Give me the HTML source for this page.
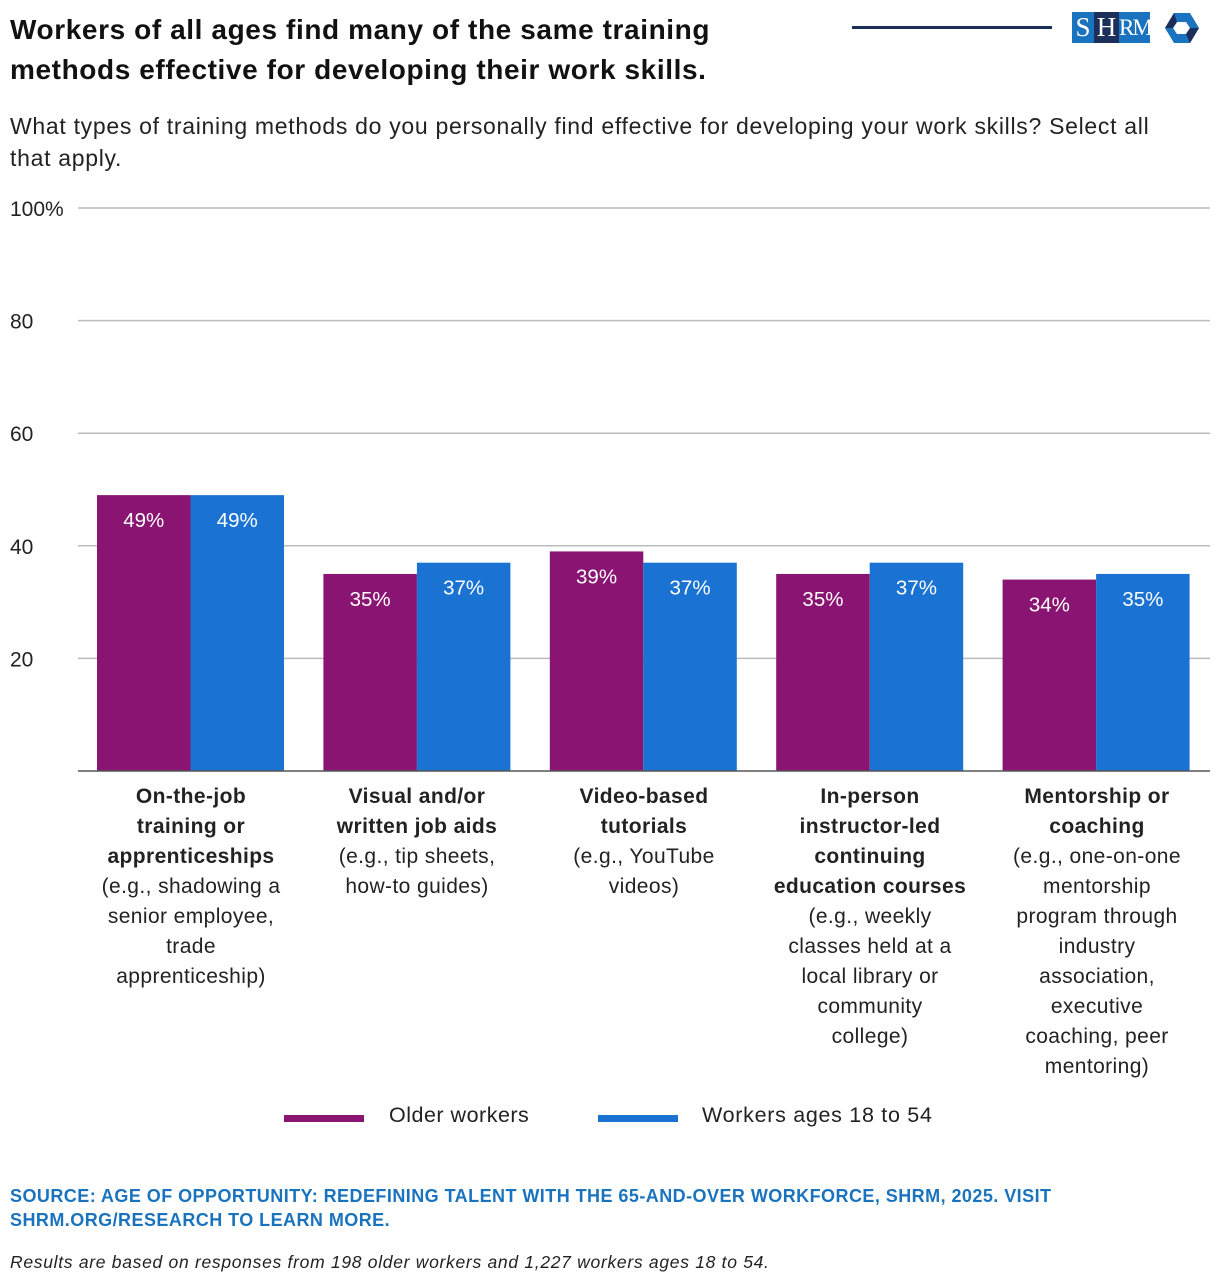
<!DOCTYPE html>
<html><head><meta charset="utf-8">
<style>
body{margin:0;width:1220px;height:1288px;background:#fff;font-family:"Liberation Sans",sans-serif;color:#111;position:relative;overflow:hidden}
.abs{position:absolute}
.title{left:10px;top:10px;font-size:28px;letter-spacing:0.6px;font-weight:bold;line-height:40px;color:#111}
.sub{left:10px;top:110px;font-size:23px;letter-spacing:0.7px;line-height:32px;color:#222;width:1205px}
.cat{position:absolute;width:230px;text-align:center;font-size:21px;letter-spacing:0.4px;line-height:30px;color:#222;white-space:nowrap}
.cat b{color:#222}
.src{left:10px;top:1184px;font-size:18px;letter-spacing:0.45px;font-weight:bold;color:#1a73be;line-height:24px}
.note{left:10px;top:1252px;font-size:17.5px;letter-spacing:0.7px;font-style:italic;color:#222}
</style></head><body>
<div class="abs title">Workers of all ages find many of the same training<br>methods effective for developing their work skills.</div>
<div class="abs" style="left:852px;top:26px;width:200px;height:3px;background:#1c2e5a"></div>
<div class="abs" style="left:1072px;top:12px;height:31px;width:130px">
 <div class="abs" style="left:0;top:0;width:22px;height:31px;background:#1a73be;color:#fff;font-family:'Liberation Serif',serif;font-size:27px;text-align:center;line-height:31px">S</div>
 <div class="abs" style="left:22px;top:0;width:25px;height:31px;background:#1c2e5a;color:#fff;font-family:'Liberation Serif',serif;font-size:27px;text-align:center;line-height:31px">H</div>
 <div class="abs" style="left:47px;top:0;width:31px;height:31px;background:#1a73be;color:#fff;font-family:'Liberation Serif',serif;font-size:23px;text-align:center;line-height:31px;letter-spacing:-2px;overflow:hidden">RM</div>
 <svg class="abs" style="left:90px;top:0" width="40" height="32" viewBox="0 0 40 32"><polygon points="12,1 28,1 37,16 28,31 12,31 3,16" fill="#1a73be"/><polygon points="15,10 24,10 28,16 24,22 15,22 11,16" fill="#fff"/><polygon points="3,16 12,1 15,10 11,16" fill="#1c2e5a"/><polygon points="28,31 24,22 28,16 37,16" fill="#1c2e5a"/></svg>
</div>
<div class="abs sub">What types of training methods do you personally find effective for developing your work skills? Select all<br>that apply.</div>

<svg class="abs" style="left:0;top:0" width="1220" height="1100" id="chart"></svg>

<div class="cat" style="left:76px;top:782px"><b>On-the-job<br>training or<br>apprenticeships</b><br>(e.g., shadowing a<br>senior employee,<br>trade<br>apprenticeship)</div>
<div class="cat" style="left:302px;top:782px"><b>Visual and/or<br>written job aids</b><br>(e.g., tip sheets,<br>how-to guides)</div>
<div class="cat" style="left:529px;top:782px"><b>Video-based<br>tutorials</b><br>(e.g., YouTube<br>videos)</div>
<div class="cat" style="left:755px;top:782px"><b>In-person<br>instructor-led<br>continuing<br>education courses</b><br>(e.g., weekly<br>classes held at a<br>local library or<br>community<br>college)</div>
<div class="cat" style="left:982px;top:782px"><b>Mentorship or<br>coaching</b><br>(e.g., one-on-one<br>mentorship<br>program through<br>industry<br>association,<br>executive<br>coaching, peer<br>mentoring)</div>

<div class="abs" style="left:284px;top:1115px;width:80px;height:7px;background:#8a1471"></div>
<div class="abs" style="left:389px;top:1103px;font-size:21.5px;letter-spacing:0.5px;color:#222">Older workers</div>
<div class="abs" style="left:598px;top:1115px;width:80px;height:7px;background:#1a73d2"></div>
<div class="abs" style="left:702px;top:1103px;font-size:21.5px;letter-spacing:0.7px;color:#222">Workers ages 18 to 54</div>

<div class="abs src">SOURCE: AGE OF OPPORTUNITY: REDEFINING TALENT WITH THE 65-AND-OVER WORKFORCE, SHRM, 2025. VISIT<br>SHRM.ORG/RESEARCH TO LEARN MORE.</div>
<div class="abs note">Results are based on responses from 198 older workers and 1,227 workers ages 18 to 54.</div>

<script>
const categories=["On-the-job","Visual aids","Video","In-person","Mentorship"];
const olderValues=[49,35,39,35,34];
const youngerValues=[49,37,37,37,35];
const tickValues=[20,40,60,80,100];
const tickLabels=["20","40","60","80","100%"];
const svg=document.getElementById('chart');
const NS='http://www.w3.org/2000/svg';
const x0=78,x1=1210,yTop=208,yBase=771;
function y(v){return yBase-(v/100)*(yBase-yTop);}
const band=(x1-x0)/categories.length;
function bx(i){return x0+i*band+19;}
const bw=93.5;
function mk(tag,attrs){const e=document.createElementNS(NS,tag);for(const k in attrs)e.setAttribute(k,attrs[k]);svg.appendChild(e);return e;}
tickValues.forEach((t,i)=>{
 const l=mk('line',{x1:x0,x2:x1,y1:y(t),y2:y(t),stroke:'#bbb','stroke-width':1.5});
 
 
 const tx=mk('text',{x:10,y:y(t)+8,'font-size':21,fill:'#222','font-family':'Liberation Sans, sans-serif'});
 tx.textContent=tickLabels[i];
 
 
});
function bar(i,v,off,col,nm){
 const r=mk('rect',{x:bx(i)+off,y:y(v),width:bw,height:yBase-y(v),fill:col});
 
 
 const t=mk('text',{x:bx(i)+off+bw/2,y:y(v)+32,'text-anchor':'middle','font-size':20.5,fill:'#fff','font-family':'Liberation Sans, sans-serif'});
 t.textContent=v+'%';
 
 
}
categories.forEach((c,i)=>{
 bar(i,olderValues[i],0,'#8a1471','bar-older');
 bar(i,youngerValues[i],bw,'#1a73d2','bar-younger');
});
const ax=mk('line',{x1:x0,x2:x1,y1:yBase,y2:yBase,stroke:'#555','stroke-width':1.5});


</script>
</body></html>
